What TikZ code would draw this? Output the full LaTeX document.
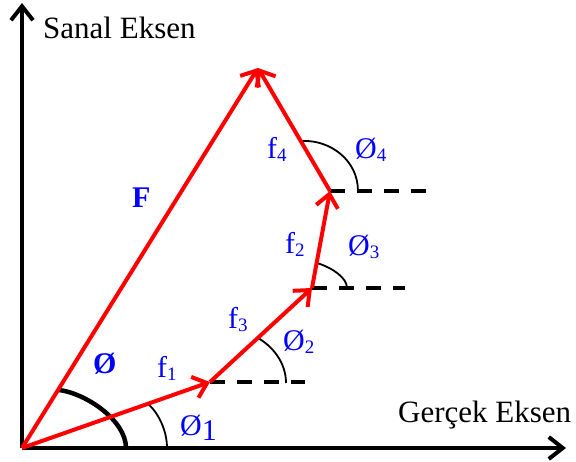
\documentclass[tikz,border=0pt]{standalone}
\usepackage{fontspec}
\setmainfont{Liberation Serif}
\usetikzlibrary{arrows.meta}
\newcommand{\lsub}[1]{\raisebox{-3pt}{\fontsize{19}{19}\selectfont #1}}
\begin{document}
\begin{tikzpicture}[x=1pt,y=-1pt,
  vec/.style={draw=red,line width=4pt,-{Straight Barb[length=13pt,width=22pt]}},
  axis/.style={draw=black,line width=4pt,-{Straight Barb[length=14pt,width=22pt]}},
  refline/.style={draw=black,line width=4pt,dash pattern=on 15pt off 12pt},
  ang/.style={draw=black,line width=1.8pt},
  bigang/.style={draw=black,line width=4.5pt},
  lbl/.style={text=blue,anchor=base west,inner sep=0pt,font=\fontsize{30}{36}\selectfont},
  blbl/.style={text=blue,anchor=base west,inner sep=0pt,font=\fontsize{30}{36}\selectfont\bfseries},
  axlbl/.style={text=black,anchor=base west,inner sep=0pt,font=\fontsize{31}{36}\selectfont}]
\useasboundingbox (0,0) rectangle (576,461);
% points
\coordinate (O) at (22,448);
\coordinate (X) at (566,448);
\coordinate (Y) at (22,3);
\coordinate (P1) at (210,382);
\coordinate (P2) at (312,288);
\coordinate (P3) at (330,191);
\coordinate (P4) at (258,68);
\coordinate (D1) at (305,382);
\coordinate (D2) at (405,288);
\coordinate (D3) at (430,191);
% axes
\draw[axis] (O) -- (X);
\draw[axis] (O) -- (Y);
% reference lines
\draw[refline] (P1) -- (D1);
\draw[refline] (P2) -- (D2);
\draw[refline] (P3) -- (D3);
% angle arcs
\draw[bigang] (59,390) .. controls (85,393) and (126,420) .. (126,448);
\draw[ang] (147,403) .. controls (158,412) and (167,430) .. (167,448);
\draw[ang] (258,338) .. controls (272,346) and (286,362) .. (286,383);
\draw[ang] (317,263) .. controls (333,268) and (347,278) .. (347,288);
\draw[ang] (303,141) .. controls (330,140) and (358,160) .. (358,191);
% vectors
\draw[vec] (O) -- (P4);
\draw[vec] (O) -- (P1);
\draw[vec] (P1) -- (P2);
\draw[vec] (P2) -- (P3);
\draw[vec] (P3) -- (P4);
% labels
\node[axlbl] (ylab) at (43,38) {Sanal Eksen};
\node[axlbl] (xlab) at (398,422) {Gerçek Eksen};
\node[blbl] (Flab) at (132,207) {F};
\node[blbl] (philab) at (93,373) {Ø};
\node[lbl] (f1) at (157,377) {f\lsub{1}};
\node[lbl] (a1) at (180,435) {Ø\raisebox{-5pt}{1}};
\node[lbl] (f3) at (228,328) {f\lsub{3}};
\node[lbl] (a2) at (283,350) {Ø\lsub{2}};
\node[lbl] (f2) at (285,253) {f\lsub{2}};
\node[lbl] (a3) at (348,255) {Ø\lsub{3}};
\node[lbl] (f4) at (267,158) {f\lsub{4}};
\node[lbl] (a4) at (355,158) {Ø\lsub{4}};
\end{tikzpicture}
\end{document}
